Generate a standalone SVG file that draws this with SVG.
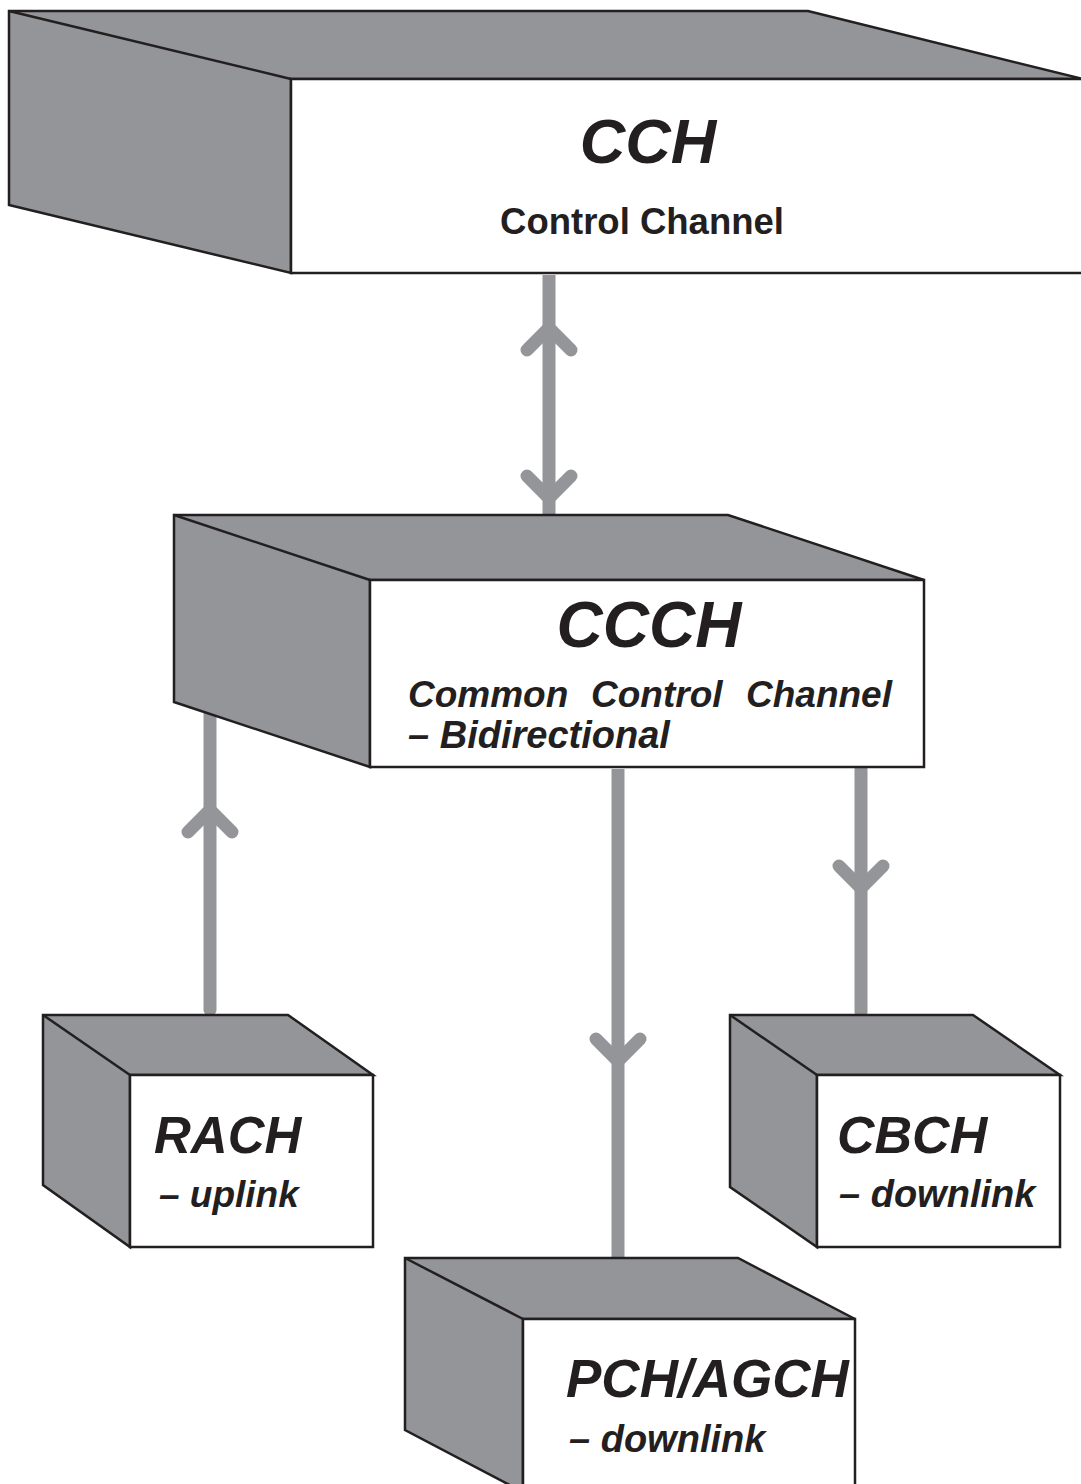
<svg xmlns="http://www.w3.org/2000/svg" width="1081" height="1484" viewBox="0 0 1081 1484">
<style>
.side{fill:#939598;stroke:#231f20;stroke-width:2.5;stroke-linejoin:miter}
.front{fill:#ffffff;stroke:#231f20;stroke-width:2.5}
.conn{stroke:#939598;stroke-width:13;fill:none;stroke-linecap:round;stroke-linejoin:miter}
.t{font-family:"Liberation Sans",Arial,sans-serif;font-weight:bold;fill:#231f20}
.i{font-style:italic}
</style>
<rect width="1081" height="1484" fill="#ffffff"/>
<g id="connectors">
<line class="conn" x1="549" y1="275" x2="549" y2="515" style="stroke-linecap:butt"/>
<polyline class="conn" points="527,350 549,328 571,350"/>
<polyline class="conn" points="527,476 549,498 571,476"/>
<line class="conn" x1="210" y1="714" x2="210" y2="1010"/>
<polyline class="conn" points="188,832 210,810 232,832"/>
<line class="conn" x1="618" y1="769" x2="618" y2="1258" style="stroke-linecap:butt"/>
<polyline class="conn" points="596,1039 618,1061 640,1039"/>
<line class="conn" x1="861" y1="769" x2="861" y2="1012"/>
<polyline class="conn" points="839,866 861,888 883,866"/>
</g>
<g id="cch">
<polygon class="side" points="9,11 808,11 1083,79 291,79 291,273 9,205"/>
<line x1="9" y1="11" x2="291" y2="79" stroke="#231f20" stroke-width="2.5"/>
<rect class="front" x="291" y="79" width="800" height="194"/>
<text class="t i" x="648" y="163" font-size="63" text-anchor="middle">CCH</text>
<text class="t" x="642" y="234" font-size="36.5" text-anchor="middle">Control Channel</text>
</g>
<g id="ccch">
<polygon class="side" points="174,515 728,515 924,580 370,580 370,767 174,702"/>
<line x1="174" y1="515" x2="370" y2="580" stroke="#231f20" stroke-width="2.5"/>
<rect class="front" x="370" y="580" width="554" height="187"/>
<text class="t i" x="649" y="647" font-size="64" text-anchor="middle">CCCH</text>
<text class="t i" font-size="37" y="707"><tspan x="408">Common</tspan><tspan x="591">Control</tspan><tspan x="746">Channel</tspan></text>
<text class="t i" x="408" y="748" font-size="38">– Bidirectional</text>
</g>
<g id="rach">
<polygon class="side" points="43,1015 288,1015 373,1075 130,1075 130,1247 43,1185"/>
<line x1="43" y1="1015" x2="130" y2="1075" stroke="#231f20" stroke-width="2.5"/>
<rect class="front" x="130" y="1075" width="243" height="172"/>
<text class="t i" x="154" y="1153" font-size="51">RACH</text>
<text class="t i" x="159" y="1207" font-size="37">– uplink</text>
</g>
<g id="pchagch">
<polygon class="side" points="405,1258 738,1258 855,1319 523,1319 523,1492 405,1430"/>
<line x1="405" y1="1258" x2="523" y2="1319" stroke="#231f20" stroke-width="2.5"/>
<rect class="front" x="523" y="1319" width="332" height="180"/>
<text class="t i" x="566" y="1397" font-size="53">PCH/AGCH</text>
<text class="t i" x="569" y="1452" font-size="38">– downlink</text>
</g>
<g id="cbch">
<polygon class="side" points="730,1015 973,1015 1060,1075 817,1075 817,1247 730,1187"/>
<line x1="730" y1="1015" x2="817" y2="1075" stroke="#231f20" stroke-width="2.5"/>
<rect class="front" x="817" y="1075" width="243" height="172"/>
<text class="t i" x="837" y="1153" font-size="52">CBCH</text>
<text class="t i" x="839" y="1207" font-size="38">– downlink</text>
</g>
</svg>
